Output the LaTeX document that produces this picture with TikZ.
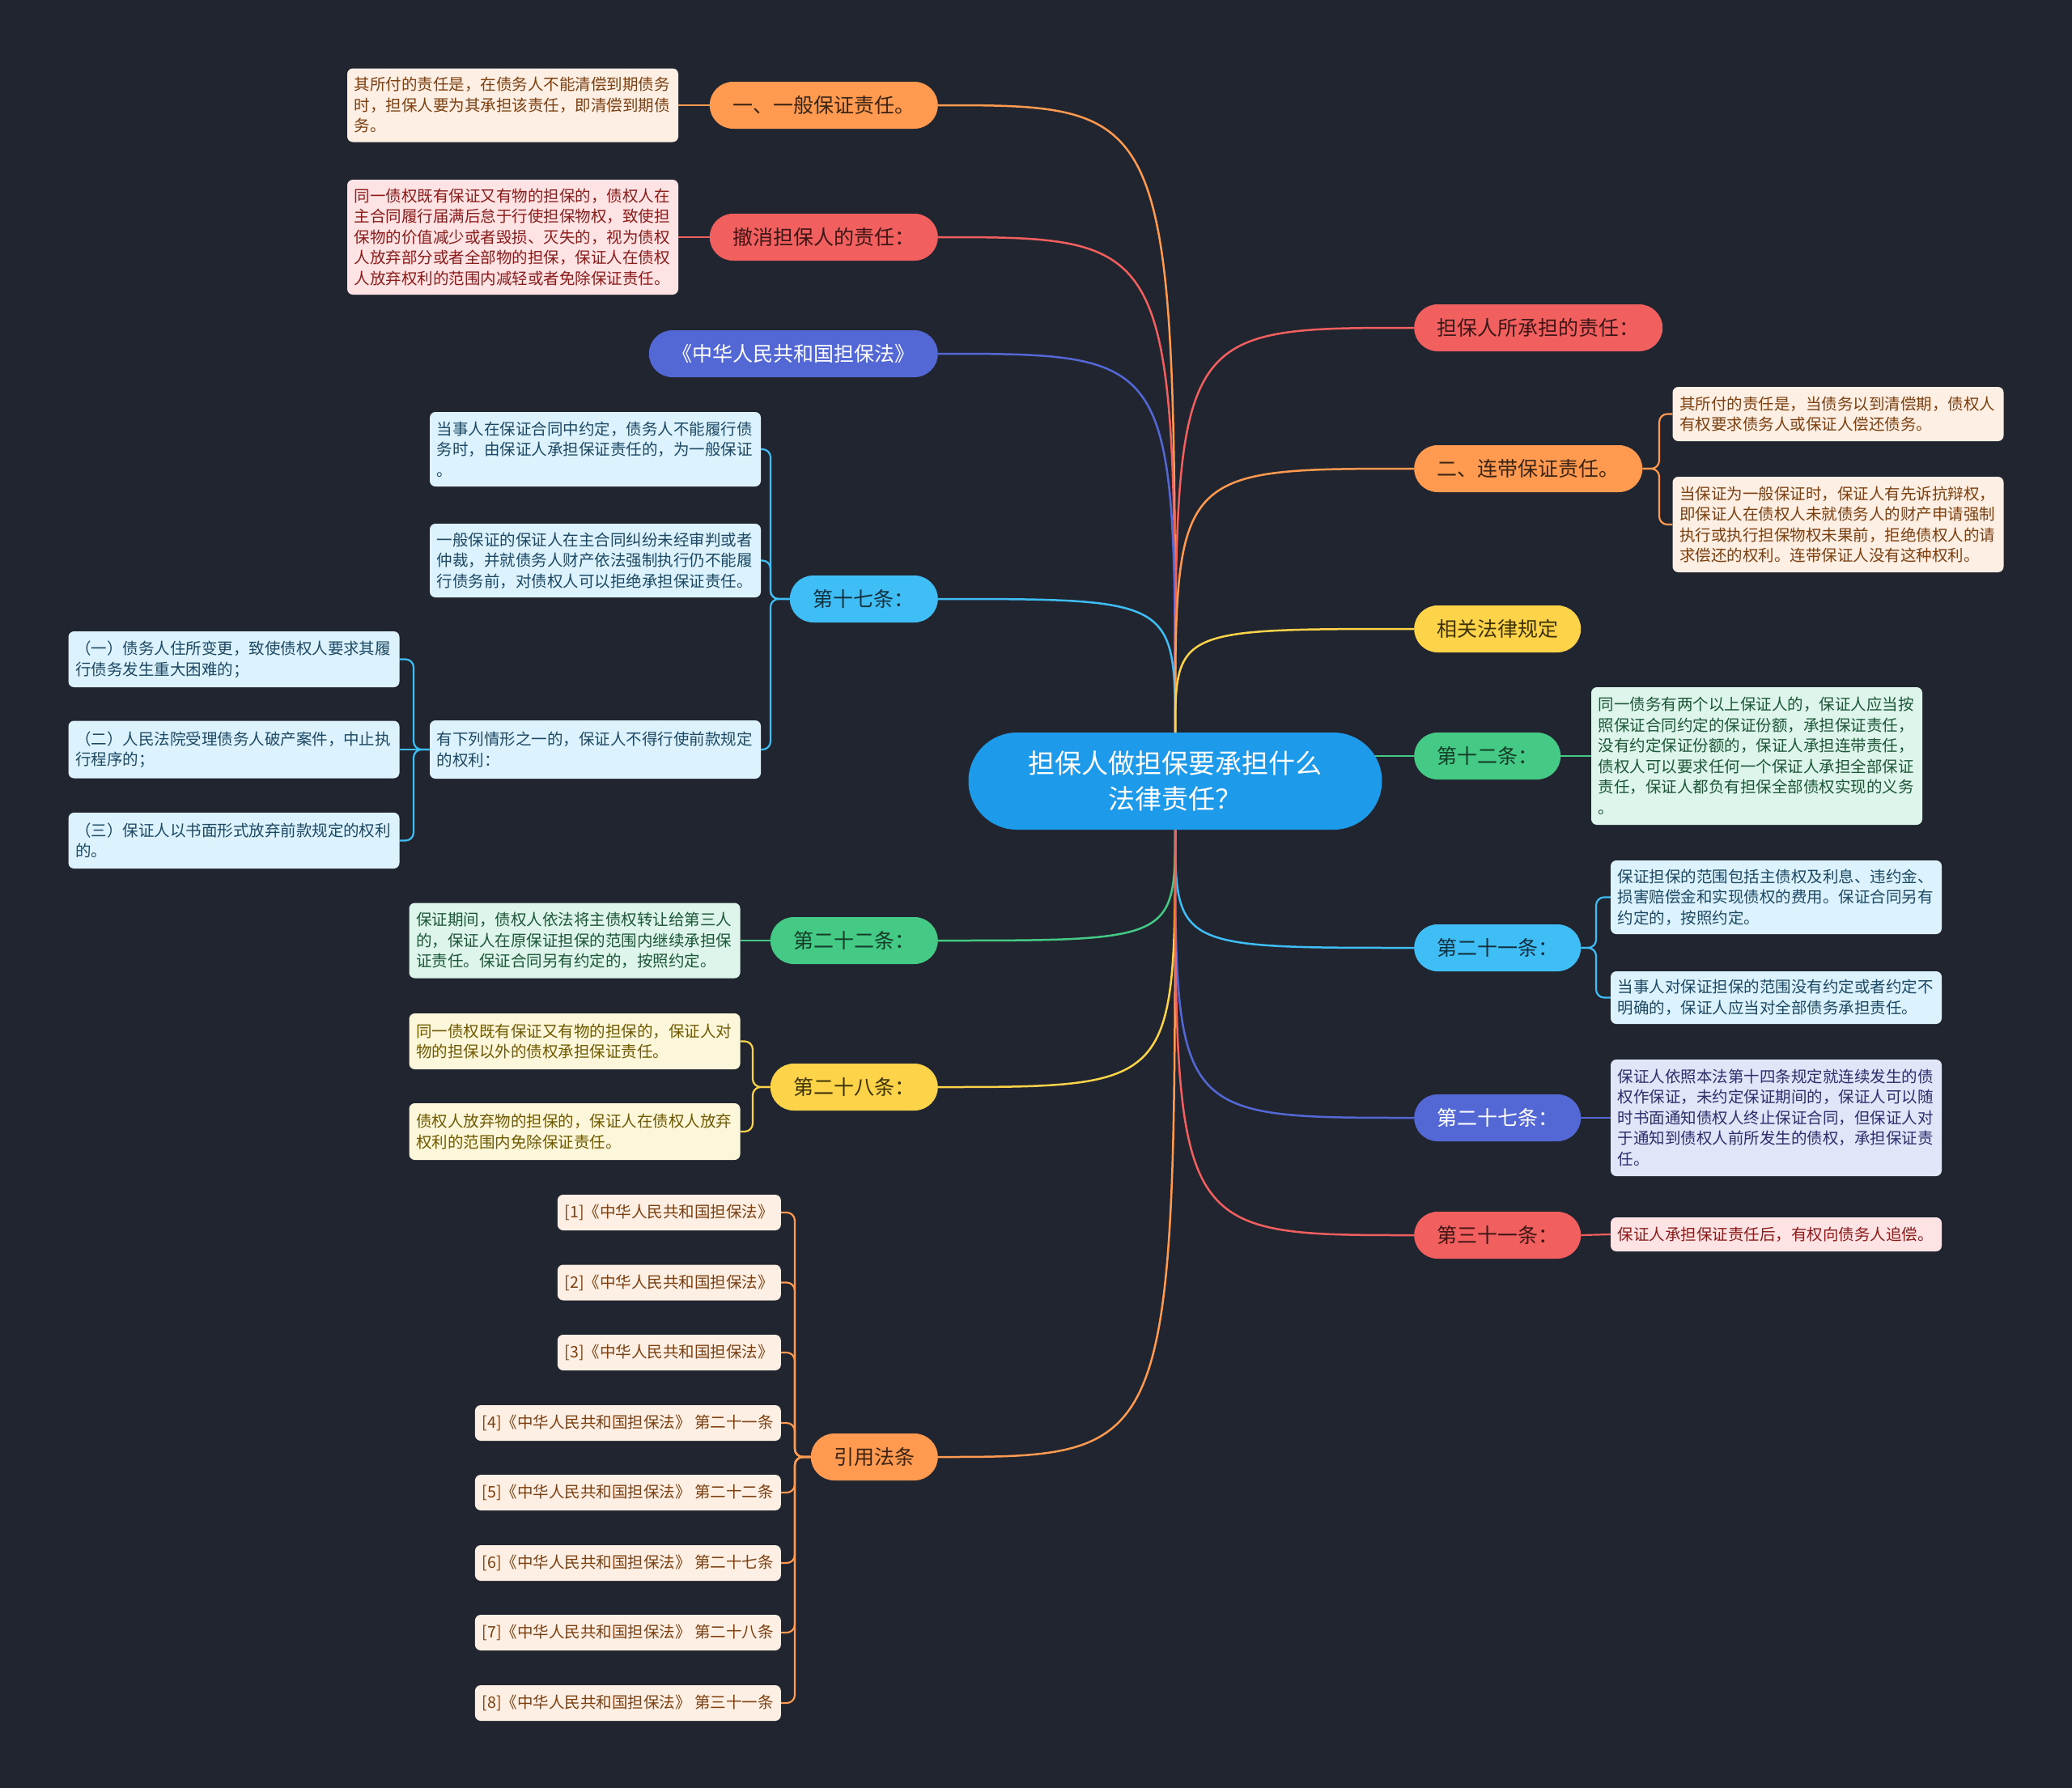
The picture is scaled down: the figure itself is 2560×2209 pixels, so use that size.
\documentclass[tikz,border=0pt]{standalone}
\usepackage{fontspec}
\setmainfont{Noto Sans CJK SC}
\pgfdeclarelayer{back}
\pgfdeclarelayer{bg}
\pgfsetlayers{back,bg,main}
\definecolor{bgc}{HTML}{21252F}
\definecolor{rootc}{HTML}{1E9AEA}
\definecolor{orc}{HTML}{FF9A50}
\definecolor{orpale}{HTML}{FDEFE3}
\definecolor{ortext}{HTML}{7B3F10}
\definecolor{ordark}{HTML}{3B2414}
\definecolor{redc}{HTML}{F25F5F}
\definecolor{redpale}{HTML}{FDE3E3}
\definecolor{redtext}{HTML}{8A1C1C}
\definecolor{reddark}{HTML}{3E1616}
\definecolor{indc}{HTML}{5468D5}
\definecolor{indpale}{HTML}{E1E5F8}
\definecolor{indtext}{HTML}{2B2F6B}
\definecolor{ltbc}{HTML}{3FBEF5}
\definecolor{ltbpale}{HTML}{DCF2FC}
\definecolor{ltbtext}{HTML}{1D4864}
\definecolor{ltbdark}{HTML}{14303F}
\definecolor{grnc}{HTML}{45CA86}
\definecolor{grnpale}{HTML}{DDF5EA}
\definecolor{grntext}{HTML}{1D5638}
\definecolor{grndark}{HTML}{143D28}
\definecolor{yelc}{HTML}{FDD34A}
\definecolor{yelpale}{HTML}{FCF6DB}
\definecolor{yeltext}{HTML}{6F5A00}
\definecolor{yeldark}{HTML}{3D3208}
\begin{document}
\begin{tikzpicture}[x=1pt,y=-1pt,
  pill/.style={rounded corners=29pt, minimum height=58pt, inner xsep=12pt, inner ysep=0pt, font=\fontsize{25}{30}\selectfont},
  tbox/.style={rounded corners=7pt, inner xsep=8.5pt, inner ysep=6pt, text width=392pt, align=left, font=\fontsize{19.5}{25.5}\selectfont},
  refbox/.style={rounded corners=7pt, minimum height=44pt, inner xsep=9pt, inner ysep=0pt, font=\fontsize{19.5}{24}\selectfont, fill=orpale, text=ortext},
  link/.style={line width=2.5pt},
  sublink/.style={line width=2.2pt, rounded corners=10pt}]
\begin{pgfonlayer}{back}
\fill[bgc] (0,0) rectangle (2560,2209);
\end{pgfonlayer}
\useasboundingbox (0,0) rectangle (2560,2209);

% root
\node[fill=rootc, text=white, rounded corners=60pt, minimum width=511pt, minimum height=120pt, align=center, font=\fontsize{33}{44}\selectfont] (root) at (1452,965) {担保人做担保要承担什么\\法律责任？};

% left first-level
\node[pill, fill=orc, text=ordark, minimum width=282pt, anchor=east] (p1) at (1159,130) {一、一般保证责任。};
\node[pill, fill=redc, text=reddark, minimum width=282pt, anchor=east] (p2) at (1159,293) {撤消担保人的责任：};
\node[pill, fill=indc, text=white, minimum width=357pt, anchor=east] (p3) at (1159,437) {《中华人民共和国担保法》};
\node[pill, fill=ltbc, text=ltbdark, minimum width=183pt, anchor=east] (p4) at (1159,740) {第十七条：};
\node[pill, fill=grnc, text=grndark, minimum width=207pt, anchor=east] (p5) at (1159,1162) {第二十二条：};
\node[pill, fill=yelc, text=yeldark, minimum width=207pt, anchor=east] (p6) at (1159,1343) {第二十八条：};
\node[pill, fill=orc, text=ordark, minimum width=157pt, anchor=east] (p7) at (1159,1800) {引用法条};

% right first-level
\node[pill, fill=redc, text=reddark, minimum width=307pt, anchor=west] (q1) at (1747,405) {担保人所承担的责任：};
\node[pill, fill=orc, text=ordark, minimum width=282pt, anchor=west] (q2) at (1747,579) {二、连带保证责任。};
\node[pill, fill=yelc, text=yeldark, minimum width=206pt, anchor=west] (q3) at (1747,777) {相关法律规定};
\node[pill, fill=grnc, text=grndark, minimum width=181pt, anchor=west] (q4) at (1747,934) {第十二条：};
\node[pill, fill=ltbc, text=ltbdark, minimum width=206pt, anchor=west] (q5) at (1747,1171) {第二十一条：};
\node[pill, fill=indc, text=white, minimum width=206pt, anchor=west] (q6) at (1747,1381) {第二十七条：};
\node[pill, fill=redc, text=reddark, minimum width=206pt, anchor=west] (q7) at (1747,1526) {第三十一条：};

% left text boxes
\node[tbox, fill=orpale, text=ortext, minimum height=91pt] (a1) at (633.5,130) {其所付的责任是，在债务人不能清偿到期债务\\时，担保人要为其承担该责任，即清偿到期债\\务。};
\node[tbox, fill=redpale, text=redtext, minimum height=142pt] (a2) at (633.5,293) {同一债权既有保证又有物的担保的，债权人在\\主合同履行届满后怠于行使担保物权，致使担\\保物的价值减少或者毁损、灭失的，视为债权\\人放弃部分或者全部物的担保，保证人在债权\\人放弃权利的范围内减轻或者免除保证责任。};
\node[tbox, fill=ltbpale, text=ltbtext, minimum height=92pt] (s1) at (735.5,555) {当事人在保证合同中约定，债务人不能履行债\\务时，由保证人承担保证责任的，为一般保证\\。};
\node[tbox, fill=ltbpale, text=ltbtext, minimum height=91pt] (s2) at (735.5,692.5) {一般保证的保证人在主合同纠纷未经审判或者\\仲裁，并就债务人财产依法强制执行仍不能履\\行债务前，对债权人可以拒绝承担保证责任。};
\node[tbox, fill=ltbpale, text=ltbtext, minimum height=72pt] (s3) at (735.5,926) {有下列情形之一的，保证人不得行使前款规定\\的权利：};
\node[tbox, fill=ltbpale, text=ltbtext, minimum height=69pt] (c1) at (289,814.5) {（一）债务人住所变更，致使债权人要求其履\\行债务发生重大困难的；};
\node[tbox, fill=ltbpale, text=ltbtext, minimum height=71pt] (c2) at (289,926) {（二）人民法院受理债务人破产案件，中止执\\行程序的；};
\node[tbox, fill=ltbpale, text=ltbtext, minimum height=69pt] (c3) at (289,1038.5) {（三）保证人以书面形式放弃前款规定的权利\\的。};
\node[tbox, fill=grnpale, text=grntext, minimum height=93pt] (g1) at (710,1162) {保证期间，债权人依法将主债权转让给第三人\\的，保证人在原保证担保的范围内继续承担保\\证责任。保证合同另有约定的，按照约定。};
\node[tbox, fill=yelpale, text=yeltext, minimum height=69pt] (y1) at (710,1286.5) {同一债权既有保证又有物的担保的，保证人对\\物的担保以外的债权承担保证责任。};
\node[tbox, fill=yelpale, text=yeltext, minimum height=70pt] (y2) at (710,1398) {债权人放弃物的担保的，保证人在债权人放弃\\权利的范围内免除保证责任。};

% references
\node[refbox, anchor=east] (f1) at (965,1498) {[1]《中华人民共和国担保法》};
\node[refbox, anchor=east] (f2) at (965,1584.5) {[2]《中华人民共和国担保法》};
\node[refbox, anchor=east] (f3) at (965,1671) {[3]《中华人民共和国担保法》};
\node[refbox, anchor=east] (f4) at (965,1758) {[4]《中华人民共和国担保法》 第二十一条};
\node[refbox, anchor=east] (f5) at (965,1844) {[5]《中华人民共和国担保法》 第二十二条};
\node[refbox, anchor=east] (f6) at (965,1931) {[6]《中华人民共和国担保法》 第二十七条};
\node[refbox, anchor=east] (f7) at (965,2017) {[7]《中华人民共和国担保法》 第二十八条};
\node[refbox, anchor=east] (f8) at (965,2104) {[8]《中华人民共和国担保法》 第三十一条};

% right text boxes
\node[tbox, fill=orpale, text=ortext, minimum height=67pt] (b1) at (2271,511.5) {其所付的责任是，当债务以到清偿期，债权人\\有权要求债务人或保证人偿还债务。};
\node[tbox, fill=orpale, text=ortext, minimum height=118pt] (b2) at (2271,648) {当保证为一般保证时，保证人有先诉抗辩权，\\即保证人在债权人未就债务人的财产申请强制\\执行或执行担保物权未果前，拒绝债权人的请\\求偿还的权利。连带保证人没有这种权利。};
\node[tbox, fill=grnpale, text=grntext, minimum height=170pt] (b3) at (2170.5,934) {同一债务有两个以上保证人的，保证人应当按\\照保证合同约定的保证份额，承担保证责任，\\没有约定保证份额的，保证人承担连带责任，\\债权人可以要求任何一个保证人承担全部保证\\责任，保证人都负有担保全部债权实现的义务\\。};
\node[tbox, fill=ltbpale, text=ltbtext, minimum height=91pt] (b4) at (2194.5,1108.5) {保证担保的范围包括主债权及利息、违约金、\\损害赔偿金和实现债权的费用。保证合同另有\\约定的，按照约定。};
\node[tbox, fill=ltbpale, text=ltbtext, minimum height=65pt] (b5) at (2194.5,1232.5) {当事人对保证担保的范围没有约定或者约定不\\明确的，保证人应当对全部债务承担责任。};
\node[tbox, fill=indpale, text=indtext, minimum height=144pt] (b6) at (2194.5,1381) {保证人依照本法第十四条规定就连续发生的债\\权作保证，未约定保证期间的，保证人可以随\\时书面通知债权人终止保证合同，但保证人对\\于通知到债权人前所发生的债权，承担保证责\\任。};
\node[tbox, fill=redpale, text=redtext, minimum height=42pt] (b7) at (2194.5,1525) {保证人承担保证责任后，有权向债务人追偿。};

% bracket columns
\coordinate (v17) at (952,0);
\coordinate (vs3) at (511,0);
\coordinate (v28) at (930,0);
\coordinate (vref) at (982,0);
\coordinate (vq2) at (2050,0);
\coordinate (vq5) at (1972,0);
\coordinate (rt) at (1452,910);
\coordinate (rb) at (1452,1020);

\begin{pgfonlayer}{bg}
% root connectors
\draw[link, orc] (rt) .. controls (rt |- p1.east) .. (p1.east);
\draw[link, redc] (rt) .. controls (rt |- p2.east) .. (p2.east);
\draw[link, indc] (rt) .. controls (rt |- p3.east) .. (p3.east);
\draw[link, ltbc] (rt) .. controls (rt |- p4.east) .. (p4.east);
\draw[link, grnc] (rb) .. controls (rb |- p5.east) .. (p5.east);
\draw[link, yelc] (rb) .. controls (rb |- p6.east) .. (p6.east);
\draw[link, orc] (rb) .. controls (rb |- p7.east) .. (p7.east);
\draw[link, redc] (rt) .. controls (rt |- q1.west) .. (q1.west);
\draw[link, orc] (rt) .. controls (rt |- q2.west) .. (q2.west);
\draw[link, yelc] (rt) .. controls (rt |- q3.west) .. (q3.west);
\draw[link, grnc] (root.center |- q4.west) -- (q4.west);
\draw[link, ltbc] (rb) .. controls (rb |- q5.west) .. (q5.west);
\draw[link, indc] (rb) .. controls (rb |- q6.west) .. (q6.west);
\draw[link, redc] (rb) .. controls (rb |- q7.west) .. (q7.west);

% single children
\draw[sublink, orc] (p1.west) -- (a1.east);
\draw[sublink, redc] (p2.west) -- (a2.east);
\draw[sublink, grnc] (p5.west) -- (g1.east);
\draw[sublink, grnc] (q4.east) -- (b3.west);
\draw[sublink, indc] (q6.east) -- (b6.west);
\draw[sublink, redc] (q7.east) -- (b7.west);

% brackets
\foreach \c in {s1,s2,s3}
  \draw[sublink, ltbc] (p4.west) -- (p4.west -| v17) -- (\c.east -| v17) -- (\c.east);
\draw[sublink, ltbc] (s3.west) -- (s3.west -| vs3) -- (c1.east -| vs3) -- (c1.east);
\draw[sublink, ltbc] (s3.west) -- (c2.east);
\draw[sublink, ltbc] (s3.west) -- (s3.west -| vs3) -- (c3.east -| vs3) -- (c3.east);
\foreach \c in {y1,y2}
  \draw[sublink, yelc] (p6.west) -- (p6.west -| v28) -- (\c.east -| v28) -- (\c.east);
\foreach \c in {f1,f2,f3,f4,f5,f6,f7,f8}
  \draw[sublink, orc] (p7.west) -- (p7.west -| vref) -- (\c.east -| vref) -- (\c.east);
\foreach \c in {b1,b2}
  \draw[sublink, orc] (q2.east) -- (q2.east -| vq2) -- (\c.west -| vq2) -- (\c.west);
\foreach \c in {b4,b5}
  \draw[sublink, ltbc] (q5.east) -- (q5.east -| vq5) -- (\c.west -| vq5) -- (\c.west);
\end{pgfonlayer}
\end{tikzpicture}
\end{document}
